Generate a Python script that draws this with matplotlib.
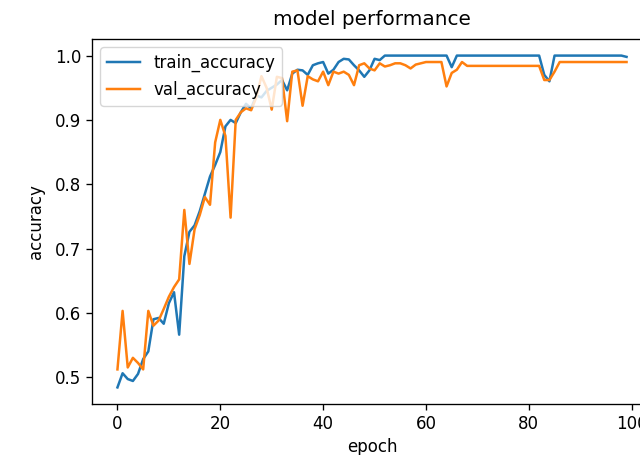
import matplotlib
matplotlib.use("Agg")
import matplotlib.pyplot as plt

# accuracy per epoch
train_accuracy = [
    0.484, 0.506, 0.497, 0.494, 0.505, 0.528, 0.540, 0.590, 0.592, 0.583,
    0.615, 0.632, 0.566, 0.688, 0.726, 0.736, 0.758, 0.785, 0.812, 0.830,
    0.850, 0.890, 0.900, 0.895, 0.912, 0.925, 0.918, 0.938, 0.935, 0.945,
    0.950, 0.955, 0.962, 0.946, 0.972, 0.978, 0.977, 0.970, 0.985, 0.988,
    0.990, 0.972, 0.978, 0.990, 0.995, 0.994, 0.985, 0.977, 0.967, 0.977,
    0.995, 0.993, 1.000, 1.000, 1.000, 1.000, 1.000, 1.000, 1.000, 1.000,
    1.000, 1.000, 1.000, 1.000, 1.000, 0.982, 1.000, 1.000, 1.000, 1.000,
    1.000, 1.000, 1.000, 1.000, 1.000, 1.000, 1.000, 1.000, 1.000, 1.000,
    1.000, 1.000, 1.000, 0.970, 0.960, 1.000, 1.000, 1.000, 1.000, 1.000,
    1.000, 1.000, 1.000, 1.000, 1.000, 1.000, 1.000, 1.000, 1.000, 0.998,
]
val_accuracy = [
    0.512, 0.603, 0.515, 0.530, 0.522, 0.512, 0.603, 0.580, 0.588, 0.606,
    0.625, 0.640, 0.652, 0.760, 0.676, 0.730, 0.752, 0.780, 0.768, 0.865,
    0.900, 0.875, 0.748, 0.900, 0.912, 0.918, 0.915, 0.935, 0.968, 0.950,
    0.916, 0.967, 0.965, 0.898, 0.975, 0.977, 0.922, 0.968, 0.963, 0.960,
    0.975, 0.954, 0.975, 0.972, 0.975, 0.970, 0.954, 0.985, 0.988, 0.980,
    0.977, 0.988, 0.983, 0.985, 0.988, 0.988, 0.985, 0.980, 0.986, 0.988,
    0.990, 0.990, 0.990, 0.990, 0.952, 0.973, 0.978, 0.990, 0.984, 0.984,
    0.984, 0.984, 0.984, 0.984, 0.984, 0.984, 0.984, 0.984, 0.984, 0.984,
    0.984, 0.984, 0.984, 0.962, 0.962, 0.975, 0.990, 0.990, 0.990, 0.990,
    0.990, 0.990, 0.990, 0.990, 0.990, 0.990, 0.990, 0.990, 0.990, 0.990,
]
legend_labels = ['train_accuracy', 'val_accuracy']

s = 1.2  # the reference is an upscaled notebook figure
plt.rcParams['font.family'] = ['DejaVu Sans']
plt.rcParams['font.size'] = 10 * s
plt.rcParams['axes.linewidth'] = 0.8 * s
plt.rcParams['xtick.major.size'] = 3.5 * s
plt.rcParams['ytick.major.size'] = 3.5 * s
plt.rcParams['xtick.major.width'] = 0.8 * s
plt.rcParams['ytick.major.width'] = 0.8 * s

fig = plt.figure(figsize=(6.4, 4.55), dpi=100)
# right spine falls outside the canvas, as in the cropped original
ax = fig.add_axes([92 / 640, 51 / 455, 560 / 640, 365 / 455])

ax.plot(train_accuracy, lw=1.5 * s)
ax.plot(val_accuracy, lw=1.5 * s)

ax.set_title('model performance', fontsize=12 * s, pad=10)
ax.set_ylabel('accuracy', labelpad=7)
ax.set_xlabel('epoch')
ax.legend(legend_labels, loc='upper left')

fig.savefig('out.png', dpi=100)
